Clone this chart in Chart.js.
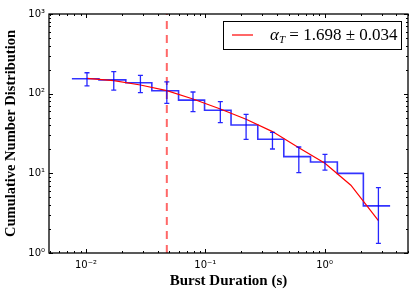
<!DOCTYPE html>
<html>
<head>
<meta charset="utf-8">
<script src="https://cdn.jsdelivr.net/npm/chart.js@4.4.0/dist/chart.umd.min.js"></script>
<style>
  html, body { margin: 0; padding: 0; background: #fff; }
</style>
</head>
<body>
<canvas id="chart" width="415" height="296"></canvas>
<script>
// histogram bin edges (s) and cumulative counts per bin
const binEdges = [0.00762, 0.01285, 0.02158, 0.03565, 0.0597, 0.0986, 0.1644, 0.2754, 0.455, 0.762, 1.279, 2.113, 3.54];
const binCounts = [154, 149, 137, 109, 83, 62, 40.5, 26.8, 16.2, 13.9, 10, 3.9];
// error bars: x position, lower and upper bound
const errX = [0.0102, 0.0171, 0.0286, 0.0476, 0.0789, 0.1337, 0.2198, 0.3656, 0.6081, 1.007, 1.66, 2.825];
const errLow = [125, 111, 103, 75.7, 59.4, 43.2, 26.7, 20.2, 10.2, 11.0, null, 1.32];
const errHigh = [183, 189, 170, 141, 105, 79.3, 55, 32.7, 21.4, 17.3, null, 6.6];
// fitted model at the same x positions
const fitValues = [156, 145.5, 128.5, 109, 85.7, 64.3, 47.7, 33.4, 21.0, 13.4, 7.1, 2.55];
const cutoff = 0.0476;
const xTicks = [0.01, 0.1, 1];
const xTickLabels = ['10⁻²', '10⁻¹', '10⁰'];
const yTicks = [1, 10, 100, 1000];
const yTickLabels = ['10⁰', '10¹', '10²', '10³'];
const legendText = ' = 1.698 ± 0.034';

const stepData = binEdges.map((x, i) => ({ x, y: binCounts[Math.min(i, binCounts.length - 1)] }));
const fitData = errX.map((x, i) => ({ x, y: fitValues[i] }));

const errorBars = {
  id: 'errorBars',
  afterDatasetsDraw(chart) {
    const { ctx, scales: { x, y } } = chart;
    ctx.save();
    ctx.strokeStyle = 'rgba(0,0,255,0.85)';
    ctx.lineWidth = 1.3;
    errX.forEach((v, i) => {
      if (errLow[i] == null) return;
      const px = x.getPixelForValue(v);
      const top = y.getPixelForValue(errHigh[i]);
      const bot = y.getPixelForValue(errLow[i]);
      ctx.beginPath();
      ctx.moveTo(px, top); ctx.lineTo(px, bot);
      ctx.moveTo(px - 2.5, top); ctx.lineTo(px + 2.5, top);
      ctx.moveTo(px - 2.5, bot); ctx.lineTo(px + 2.5, bot);
      ctx.stroke();
    });
    ctx.restore();
  }
};

function logTicks(scale) {
  const out = [];
  for (let d = Math.floor(Math.log10(scale.min)); d <= Math.ceil(Math.log10(scale.max)); d++) {
    for (let k = 1; k <= 9; k++) {
      const v = k * Math.pow(10, d);
      if (v >= scale.min * 0.999 && v <= scale.max * 1.001) out.push({ v, major: k === 1 });
    }
  }
  return out;
}

const frame = {
  id: 'frame',
  afterDraw(chart) {
    const { ctx, chartArea: a, scales: { x, y } } = chart;
    ctx.save();
    ctx.strokeStyle = '#000';
    ctx.lineWidth = 1;
    ctx.beginPath();
    logTicks(x).forEach(t => {
      const px = Math.round(x.getPixelForValue(t.v)) + 0.5;
      const len = t.major ? 4 : 2;
      ctx.moveTo(px, a.bottom); ctx.lineTo(px, a.bottom - len);
      ctx.moveTo(px, a.top); ctx.lineTo(px, a.top + len);
    });
    logTicks(y).forEach(t => {
      const py = Math.round(y.getPixelForValue(t.v)) + 0.5;
      const len = t.major ? 4 : 2;
      ctx.moveTo(a.left, py); ctx.lineTo(a.left + len, py);
      ctx.moveTo(a.right, py); ctx.lineTo(a.right - len, py);
    });
    ctx.stroke();
    ctx.lineWidth = 1.3;
    ctx.strokeRect(a.left, a.top, a.right - a.left, a.bottom - a.top);

    // legend box
    const bw = 178, bh = 28;
    const bx = a.right - 7 - bw, by = a.top + 7;
    ctx.fillStyle = '#fff';
    ctx.fillRect(bx, by, bw, bh);
    ctx.lineWidth = 1;
    ctx.strokeStyle = '#000';
    ctx.strokeRect(bx + 0.5, by + 0.5, bw, bh);
    const cy = by + bh / 2;
    ctx.strokeStyle = '#ff0000';
    ctx.lineWidth = 1.2;
    ctx.beginPath();
    ctx.moveTo(bx + 9, cy); ctx.lineTo(bx + 30, cy);
    ctx.stroke();
    ctx.fillStyle = '#000';
    ctx.textBaseline = 'alphabetic';
    let tx = bx + 47;
    const base = cy + 5;
    ctx.font = 'italic 17px "Liberation Serif"';
    ctx.fillText('α', tx, base);
    tx += ctx.measureText('α').width;
    ctx.font = 'italic 11px "Liberation Serif"';
    ctx.fillText('T', tx, base + 3);
    tx += ctx.measureText('T').width;
    ctx.font = '17px "Liberation Serif"';
    ctx.fillText(legendText, tx, base);
    ctx.restore();
  }
};

new Chart(document.getElementById('chart').getContext('2d'), {
  type: 'scatter',
  data: {
    datasets: [
      {
        data: [{ x: cutoff, y: 1 }, { x: cutoff, y: 1000 }],
        showLine: true,
        borderColor: 'rgba(255,40,40,0.7)',
        borderWidth: 2,
        borderDash: [8, 6],
        pointRadius: 0,
        order: 0,
      },
      {
        data: fitData,
        showLine: true,
        borderColor: '#ff0000',
        borderWidth: 1.2,
        pointRadius: 0,
        order: 1,
      },
      {
        data: stepData,
        showLine: true,
        stepped: 'before',
        borderColor: 'rgba(0,0,255,0.8)',
        borderWidth: 1.6,
        pointRadius: 0,
        order: 2,
      },
    ],
  },
  options: {
    responsive: false,
    animation: false,
    layout: { padding: { top: 14, right: 7, left: 0, bottom: 0 } },
    plugins: { legend: { display: false }, tooltip: { enabled: false } },
    scales: {
      x: {
        type: 'logarithmic',
        min: 0.0049,
        max: 5.0,
        grid: { display: false, drawTicks: false },
        border: { display: false },
        afterBuildTicks: (s) => { s.ticks = xTicks.map(v => ({ value: v })); },
        afterFit: (s) => { s.height = 43; },
        ticks: {
          autoSkip: false,
          maxRotation: 0,
          padding: 6,
          color: '#000',
          font: { family: 'DejaVu Sans', size: 10 },
          callback: (v) => xTickLabels[xTicks.indexOf(v)] ?? '',
        },
        title: {
          display: true,
          text: 'Burst Duration (s)',
          color: '#000',
          font: { family: 'Liberation Serif', size: 15, weight: 'bold' },
          padding: { top: 0, bottom: 6 },
        },
      },
      y: {
        type: 'logarithmic',
        min: 1,
        max: 1000,
        grid: { display: false, drawTicks: false },
        border: { display: false },
        afterBuildTicks: (s) => { s.ticks = yTicks.map(v => ({ value: v })); },
        afterFit: (s) => { s.width = 49; },
        ticks: {
          autoSkip: false,
          padding: 4,
          color: '#000',
          font: { family: 'DejaVu Sans', size: 10 },
          callback: (v) => yTickLabels[yTicks.indexOf(v)] ?? '',
        },
        title: {
          display: true,
          text: 'Cumulative Number Distribution',
          color: '#000',
          font: { family: 'Liberation Serif', size: 14.5, weight: 'bold' },
          padding: { top: 3, bottom: 0 },
        },
      },
    },
  },
  plugins: [errorBars, frame],
});
</script>
</body>
</html>
